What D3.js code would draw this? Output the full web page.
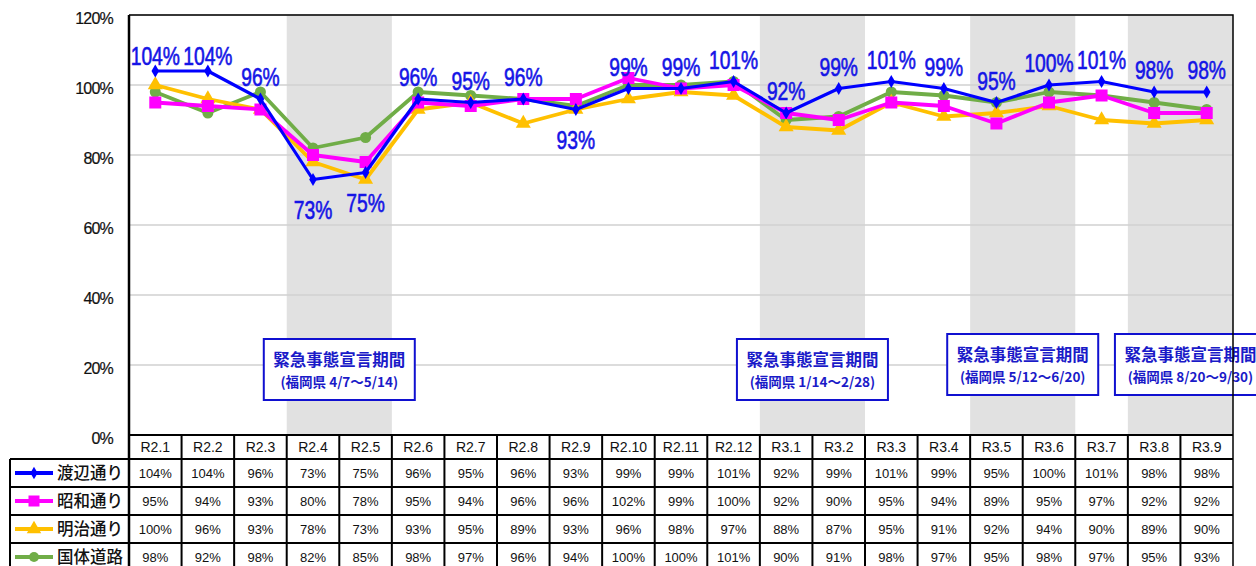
<!DOCTYPE html>
<html>
<head>
<meta charset="utf-8">
<script src="https://cdn.jsdelivr.net/npm/d3@7"></script>
<style>
  body { margin: 0; background: #fff; }
  svg { display: block; }
  text { font-family: "Liberation Sans", Arial, sans-serif; }
  .jp { font-family: "Noto Sans CJK JP", sans-serif; }
</style>
</head>
<body>
<svg id="chart" width="1256" height="566"></svg>
<script>
// months (令和2年1月 ... 令和3年9月)
const categories = ["R2.1","R2.2","R2.3","R2.4","R2.5","R2.6","R2.7","R2.8","R2.9","R2.10","R2.11","R2.12",
  "R3.1","R3.2","R3.3","R3.4","R3.5","R3.6","R3.7","R3.8","R3.9"];

const seriesNames = ["渡辺通り", "昭和通り", "明治通り", "国体道路"];
const watanabe = [104,104,96,73,75,96,95,96,93,99,99,101,92,99,101,99,95,100,101,98,98];
const showa    = [95,94,93,80,78,95,94,96,96,102,99,100,92,90,95,94,89,95,97,92,92];
const meiji    = [100,96,93,78,73,93,95,89,93,96,98,97,88,87,95,91,92,94,90,89,90];
const kokutai  = [98,92,98,82,85,98,97,96,94,100,100,101,90,91,98,97,95,98,97,95,93];

const yTicks = [0, 20, 40, 60, 80, 100, 120];

// 緊急事態宣言期間
const periodStart = ["R2.4", "R3.1", "R3.5", "R3.8"];
const periodEnd   = ["R2.5", "R3.2", "R3.6", "R3.9"];
const periodTitle = "緊急事態宣言期間";
const periodNote  = ["(福岡県 4/7～5/14)", "(福岡県 1/14～2/28)", "(福岡県 5/12～6/20)", "(福岡県 8/20～9/30)"];

// labels of 渡辺通り drawn under the point
const labelBelow = new Set(["R2.4", "R2.5", "R2.9"]);

const series = [
  { name: seriesNames[0], values: watanabe, color: "#0000ff", marker: "diamond" },
  { name: seriesNames[1], values: showa,    color: "#ff00ff", marker: "square" },
  { name: seriesNames[2], values: meiji,    color: "#ffc000", marker: "triangle" },
  { name: seriesNames[3], values: kokutai,  color: "#70ad47", marker: "circle" }
];
const drawOrder = [3, 2, 1, 0];

const plotLeft = 129, plotRight = 1233, plotTop = 15, plotBottom = 435;
const rowH = 28, headerBottom = 459, tableLeft = 10;

const svg = d3.select("#chart");

const x = d3.scaleBand().domain(categories).range([plotLeft, plotRight]).padding(0);
const y = d3.scaleLinear().domain([0, 120]).range([plotBottom, plotTop]);
const cx = c => x(c) + x.bandwidth() / 2;

// shaded periods
const boxShift = [0, 0, 0, 10];
periodStart.forEach((s, i) => {
  const x0 = x(s), x1 = x(periodEnd[i]) + x.bandwidth();
  svg.append("rect")
    .attr("x", x0).attr("y", plotTop)
    .attr("width", x1 - x0).attr("height", plotBottom - plotTop)
    .attr("fill", "#e1e1e1");
});

// gridlines
svg.append("g").selectAll("line")
  .data(yTicks.filter(d => d > 0))
  .join("line")
  .attr("x1", plotLeft).attr("x2", plotRight)
  .attr("y1", d => y(d)).attr("y2", d => y(d))
  .attr("stroke", "#d0d0d0").attr("stroke-width", 1.5);

// y axis labels
const yAxis = d3.axisLeft(y).tickValues(yTicks).tickSize(0).tickPadding(16).tickFormat(d => d + "%");
svg.append("g")
  .attr("transform", `translate(${plotLeft},0)`)
  .call(yAxis)
  .call(g => g.select(".domain").remove())
  .call(g => g.selectAll("text")
    .attr("font-size", 16).attr("letter-spacing", -0.8)
    .attr("font-family", "Liberation Sans, Arial, sans-serif")
    .attr("fill", "#111").attr("stroke", "#111").attr("stroke-width", 0.2)
    .attr("dy", "0.5em"));

// annotation boxes
periodStart.forEach((s, i) => {
  const bx = (x(s) + x(periodEnd[i]) + x.bandwidth()) / 2 + boxShift[i];
  const by = i < 2 ? 339 : 334;
  const w = 151, h = 61;
  const g = svg.append("g");
  g.append("rect")
    .attr("x", bx - w / 2).attr("y", by)
    .attr("width", w).attr("height", h)
    .attr("fill", "#fff").attr("stroke", "#1010d0").attr("stroke-width", 2);
  g.append("text").attr("class", "jp")
    .attr("x", bx).attr("y", by + 27)
    .attr("text-anchor", "middle")
    .attr("font-size", 16.5).attr("font-weight", "bold")
    .attr("fill", "#1a1ac8")
    .text(periodTitle);
  g.append("text").attr("class", "jp")
    .attr("x", bx).attr("y", by + 48)
    .attr("text-anchor", "middle")
    .attr("font-size", 13.5).attr("font-weight", "bold")
    .attr("fill", "#1a1ac8")
    .text(periodNote[i]);
});

// markers
function marker(sel, type, color, size) {
  if (type === "diamond") {
    sel.append("path").attr("d", d3.symbol(d3.symbolDiamond, size * 5)).attr("fill", color);
  } else if (type === "square") {
    sel.append("rect").attr("x", -size / 2).attr("y", -size / 2).attr("width", size).attr("height", size).attr("fill", color);
  } else if (type === "triangle") {
    sel.append("path").attr("d", d3.symbol(d3.symbolTriangle, size * 7)).attr("fill", color);
  } else {
    sel.append("circle").attr("r", size / 2).attr("fill", color);
  }
}
const markerSize = { diamond: 10, square: 12, triangle: 14, circle: 11 };

const line = d3.line().x((d, i) => cx(categories[i])).y(d => y(d));

drawOrder.forEach(k => {
  const s = series[k];
  svg.append("path")
    .datum(s.values)
    .attr("d", line)
    .attr("fill", "none")
    .attr("stroke", s.color)
    .attr("stroke-width", k === 0 ? 3.2 : 3.8)
    .attr("stroke-linejoin", "round");
  svg.append("g").selectAll("g")
    .data(s.values)
    .join("g")
    .attr("transform", (d, i) => `translate(${cx(categories[i])},${y(d)})`)
    .each(function() { marker(d3.select(this), s.marker, s.color, markerSize[s.marker]); });
});

// value labels for 渡辺通り (condensed, like the original)
svg.append("g").selectAll("text")
  .data(watanabe)
  .join("text")
  .attr("transform", (d, i) => {
    const below = labelBelow.has(categories[i]);
    const c = below ? y(d) + 30 : Math.max(y(d) - 22, plotTop + 41);
    return `translate(${cx(categories[i])},${c + 9}) scale(0.77,1)`;
  })
  .attr("text-anchor", "middle")
  .attr("font-size", 25)
  .attr("fill", "#1414e6")
  .attr("stroke", "#1414e6").attr("stroke-width", 0.6)
  .text(d => d + "%");

// plot frame
svg.append("path")
  .attr("d", `M${plotLeft},${plotTop}H${plotRight}V566`)
  .attr("fill", "none").attr("stroke", "#000").attr("stroke-width", 1.5);
svg.append("line")
  .attr("x1", plotLeft).attr("x2", plotLeft).attr("y1", plotTop).attr("y2", 566)
  .attr("stroke", "#000").attr("stroke-width", 2.5);
svg.append("line")
  .attr("x1", plotLeft).attr("x2", plotRight).attr("y1", plotBottom).attr("y2", plotBottom)
  .attr("stroke", "#000").attr("stroke-width", 2);

// data table
const table = svg.append("g");
table.selectAll("line.v")
  .data(categories.slice(1))
  .join("line")
  .attr("x1", d => x(d)).attr("x2", d => x(d))
  .attr("y1", plotBottom).attr("y2", 566)
  .attr("stroke", "#000").attr("stroke-width", 2);
table.append("line")
  .attr("x1", tableLeft).attr("x2", tableLeft).attr("y1", headerBottom).attr("y2", 566)
  .attr("stroke", "#000").attr("stroke-width", 2);
d3.range(4).forEach(r => {
  table.append("line")
    .attr("x1", tableLeft).attr("x2", plotRight)
    .attr("y1", headerBottom + r * rowH).attr("y2", headerBottom + r * rowH)
    .attr("stroke", "#000").attr("stroke-width", 2);
});

// header labels
table.append("g").selectAll("text")
  .data(categories)
  .join("text")
  .attr("x", d => cx(d))
  .attr("y", (plotBottom + headerBottom) / 2 + 5)
  .attr("text-anchor", "middle")
  .attr("font-size", 14)
  .attr("fill", "#111")
  .text(d => d);

// rows
series.forEach((s, r) => {
  const cy = headerBottom + r * rowH + rowH / 2;
  const lg = table.append("g");
  lg.append("line")
    .attr("x1", 15).attr("x2", 53).attr("y1", cy).attr("y2", cy)
    .attr("stroke", s.color).attr("stroke-width", 4);
  const m = lg.append("g").attr("transform", `translate(34,${cy})`);
  marker(m, s.marker, s.color, markerSize[s.marker] - 1);
  lg.append("text").attr("class", "jp")
    .attr("x", 57).attr("y", cy + 6)
    .attr("font-size", 16.5).attr("font-weight", 500)
    .attr("fill", "#111")
    .text(s.name);
  table.append("g").selectAll("text")
    .data(s.values)
    .join("text")
    .attr("x", (d, i) => cx(categories[i]))
    .attr("y", cy + 5)
    .attr("text-anchor", "middle")
    .attr("font-size", 13)
    .attr("fill", "#111")
    .text(d => d + "%");
});
</script>
</body>
</html>
